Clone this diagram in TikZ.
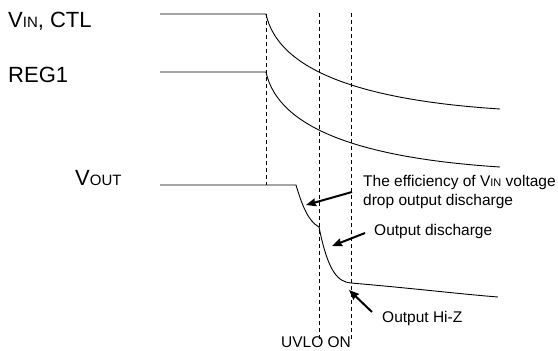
\documentclass[tikz,border=0pt]{standalone}
\usepackage{fontspec}
\setmainfont{Liberation Sans}
\usetikzlibrary{arrows.meta}

\newcommand{\sigsub}[1]{{\fontsize{15}{15}\selectfont #1}}
\newcommand{\notesub}[1]{{\fontsize{11}{11}\selectfont #1}}

\begin{document}
\begin{tikzpicture}[x=1pt,y=-1pt,
    wave/.style={line width=0.9pt},
    guide/.style={line width=0.8pt, dash pattern=on 4pt off 3pt},
    pointer/.style={line width=2pt, -{Stealth[length=10pt,width=8pt,inset=1pt]}},
    sig/.style={font=\fontsize{22}{26}\selectfont, anchor=base west, inner sep=0pt},
    note/.style={font=\fontsize{15.5}{19}\selectfont, anchor=base west, inner sep=0pt}]
        \useasboundingbox (0,0) rectangle (558,351);
        % signal names
        \node[sig] (vin) at (8,27) {V\sigsub{IN}, CTL};
        \node[sig] (reg) at (8,82) {REG1};
        \node[sig] (vout) at (75,185) {V\sigsub{OUT}};
        % waveforms
        \draw[wave] (160,14) -- (266,14) .. controls (278,70) and (360,100) .. (500,109);
        \draw[wave] (160,72) -- (266,72) .. controls (278,128) and (360,158) .. (500,167);
        \draw[wave] (160,185) -- (296,185) .. controls (302,205) and (308,221) .. (319,227)
              .. controls (328,272) and (338,282) .. (351,283)
              .. controls (420,289) and (460,294) .. (498,297);
        % guide lines
        \draw[guide] (266,14) -- (266,185);
        \node[note, anchor=base] (uvlo) at (316,347) {UVLO ON};
        \draw[guide] (319,13) -- (319,342);
        \draw[guide] (351,13) -- (351,342);
        % notes
        \node[note] (eff1) at (363,186) {The efficiency of V\notesub{IN} voltage};
        \node[note] (eff2) at (363,205) {drop output discharge};
        \node[note] (dis) at (374,235) {Output discharge};
        \node[note] (hiz) at (382,322) {Output Hi-Z};
        \coordinate (effTail) at (352,192);
        \coordinate (effTip) at (306,205);
        \coordinate (disTail) at (365,233);
        \coordinate (disTip) at (332,246);
        \coordinate (hizTail) at (372,312);
        \coordinate (hizTip) at (349,290);
        \draw[pointer] (effTail) -- (effTip);
        \draw[pointer] (disTail) -- (disTip);
        \draw[pointer] (hizTail) -- (hizTip);
     \end{tikzpicture}
\end{document}
